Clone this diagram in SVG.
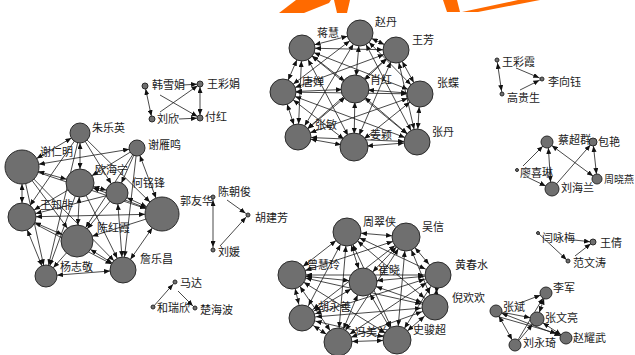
<svg xmlns="http://www.w3.org/2000/svg" width="635" height="355" viewBox="0 0 635 355">
<style>
.n{fill:#6f6f6f;stroke:#2b2b2b;stroke-width:1}
#connectors line{stroke:#1a1a1a;stroke-width:0.8;fill:none}
#eB line{marker-start:url(#m13);marker-end:url(#m13)}
#eC line{marker-start:url(#m14);marker-end:url(#m14)}
text{font-family:"Noto Sans CJK SC","Noto Sans",sans-serif;font-size:11px;fill:#1a1a1a}
.o{fill:#ff6a00}
</style>
<defs>
<marker id="m2" viewBox="0 0 6 5" refX="8" refY="2.5" markerWidth="6" markerHeight="5" markerUnits="userSpaceOnUse" orient="auto-start-reverse"><path d="M0,0L6,2.5L0,5z" fill="#111"/></marker>
<marker id="m3" viewBox="0 0 6 5" refX="9" refY="2.5" markerWidth="6" markerHeight="5" markerUnits="userSpaceOnUse" orient="auto-start-reverse"><path d="M0,0L6,2.5L0,5z" fill="#111"/></marker>
<marker id="m4" viewBox="0 0 6 5" refX="10" refY="2.5" markerWidth="6" markerHeight="5" markerUnits="userSpaceOnUse" orient="auto-start-reverse"><path d="M0,0L6,2.5L0,5z" fill="#111"/></marker>
<marker id="m5" viewBox="0 0 6 5" refX="11" refY="2.5" markerWidth="6" markerHeight="5" markerUnits="userSpaceOnUse" orient="auto-start-reverse"><path d="M0,0L6,2.5L0,5z" fill="#111"/></marker>
<marker id="m6" viewBox="0 0 6 5" refX="12" refY="2.5" markerWidth="6" markerHeight="5" markerUnits="userSpaceOnUse" orient="auto-start-reverse"><path d="M0,0L6,2.5L0,5z" fill="#111"/></marker>
<marker id="m7" viewBox="0 0 6 5" refX="13" refY="2.5" markerWidth="6" markerHeight="5" markerUnits="userSpaceOnUse" orient="auto-start-reverse"><path d="M0,0L6,2.5L0,5z" fill="#111"/></marker>
<marker id="m8" viewBox="0 0 6 5" refX="14" refY="2.5" markerWidth="6" markerHeight="5" markerUnits="userSpaceOnUse" orient="auto-start-reverse"><path d="M0,0L6,2.5L0,5z" fill="#111"/></marker>
<marker id="m10" viewBox="0 0 6 5" refX="16" refY="2.5" markerWidth="6" markerHeight="5" markerUnits="userSpaceOnUse" orient="auto-start-reverse"><path d="M0,0L6,2.5L0,5z" fill="#111"/></marker>
<marker id="m11" viewBox="0 0 6 5" refX="17" refY="2.5" markerWidth="6" markerHeight="5" markerUnits="userSpaceOnUse" orient="auto-start-reverse"><path d="M0,0L6,2.5L0,5z" fill="#111"/></marker>
<marker id="m13" viewBox="0 0 6 5" refX="19" refY="2.5" markerWidth="6" markerHeight="5" markerUnits="userSpaceOnUse" orient="auto-start-reverse"><path d="M0,0L6,2.5L0,5z" fill="#111"/></marker>
<marker id="m14" viewBox="0 0 6 5" refX="20" refY="2.5" markerWidth="6" markerHeight="5" markerUnits="userSpaceOnUse" orient="auto-start-reverse"><path d="M0,0L6,2.5L0,5z" fill="#111"/></marker>
<marker id="m16" viewBox="0 0 6 5" refX="22" refY="2.5" markerWidth="6" markerHeight="5" markerUnits="userSpaceOnUse" orient="auto-start-reverse"><path d="M0,0L6,2.5L0,5z" fill="#111"/></marker>
<marker id="m17" viewBox="0 0 6 5" refX="23" refY="2.5" markerWidth="6" markerHeight="5" markerUnits="userSpaceOnUse" orient="auto-start-reverse"><path d="M0,0L6,2.5L0,5z" fill="#111"/></marker>
</defs>
<rect width="635" height="355" fill="#ffffff"/>
<g id="banner">
<polygon class="o" points="279,13 304,13 329,3 331,0 296,0"/>
<polygon class="o" points="334,0 350,0 347,13 337,13"/>
<polygon class="o" points="443,0 457,0 460,12 447,12"/>
<polygon class="o" points="462,12 478,12 540,0 518,0"/>
</g>
<g id="connectors">
<g id="eA">
<line x1="22" y1="167" x2="80" y2="133" marker-start="url(#m17)" marker-end="url(#m10)"/>
<line x1="22" y1="167" x2="137" y2="148" marker-start="url(#m17)" marker-end="url(#m8)"/>
<line x1="22" y1="167" x2="80" y2="183" marker-start="url(#m17)" marker-end="url(#m14)"/>
<line x1="22" y1="167" x2="22" y2="217" marker-start="url(#m17)" marker-end="url(#m14)"/>
<line x1="22" y1="167" x2="162" y2="214" marker-end="url(#m17)"/>
<line x1="22" y1="167" x2="123" y2="270" marker-end="url(#m13)"/>
<line x1="22" y1="167" x2="46" y2="276" marker-end="url(#m11)"/>
<line x1="22" y1="167" x2="77" y2="241" marker-end="url(#m16)"/>
<line x1="80" y1="133" x2="80" y2="183" marker-start="url(#m10)" marker-end="url(#m14)"/>
<line x1="80" y1="133" x2="117" y2="193" marker-end="url(#m11)"/>
<line x1="80" y1="133" x2="162" y2="214" marker-end="url(#m17)"/>
<line x1="80" y1="133" x2="22" y2="217" marker-end="url(#m14)"/>
<line x1="80" y1="133" x2="46" y2="276" marker-end="url(#m11)"/>
<line x1="137" y1="148" x2="80" y2="183" marker-end="url(#m14)"/>
<line x1="137" y1="148" x2="117" y2="193" marker-end="url(#m11)"/>
<line x1="137" y1="148" x2="162" y2="214" marker-start="url(#m8)" marker-end="url(#m17)"/>
<line x1="137" y1="148" x2="77" y2="241" marker-end="url(#m16)"/>
<line x1="137" y1="148" x2="123" y2="270" marker-end="url(#m13)"/>
<line x1="80" y1="183" x2="117" y2="193" marker-start="url(#m14)" marker-end="url(#m11)"/>
<line x1="80" y1="183" x2="162" y2="214" marker-start="url(#m14)" marker-end="url(#m17)"/>
<line x1="80" y1="183" x2="22" y2="217" marker-end="url(#m14)"/>
<line x1="80" y1="183" x2="77" y2="241" marker-start="url(#m14)" marker-end="url(#m16)"/>
<line x1="80" y1="183" x2="46" y2="276" marker-end="url(#m11)"/>
<line x1="80" y1="183" x2="123" y2="270" marker-end="url(#m13)"/>
<line x1="117" y1="193" x2="162" y2="214" marker-start="url(#m11)" marker-end="url(#m17)"/>
<line x1="117" y1="193" x2="77" y2="241" marker-end="url(#m16)"/>
<line x1="117" y1="193" x2="123" y2="270" marker-start="url(#m11)" marker-end="url(#m13)"/>
<line x1="117" y1="193" x2="22" y2="217" marker-end="url(#m14)"/>
<line x1="162" y1="214" x2="22" y2="217" marker-start="url(#m17)" marker-end="url(#m14)"/>
<line x1="162" y1="214" x2="77" y2="241" marker-end="url(#m16)"/>
<line x1="162" y1="214" x2="123" y2="270" marker-start="url(#m17)" marker-end="url(#m13)"/>
<line x1="22" y1="217" x2="77" y2="241" marker-start="url(#m14)" marker-end="url(#m16)"/>
<line x1="22" y1="217" x2="46" y2="276" marker-start="url(#m14)" marker-end="url(#m11)"/>
<line x1="22" y1="217" x2="123" y2="270" marker-end="url(#m13)"/>
<line x1="77" y1="241" x2="46" y2="276" marker-end="url(#m11)"/>
<line x1="77" y1="241" x2="123" y2="270" marker-start="url(#m16)" marker-end="url(#m13)"/>
<line x1="46" y1="276" x2="123" y2="270" marker-start="url(#m11)" marker-end="url(#m13)"/>
</g>
<g id="eB">
<line x1="360" y1="33" x2="302" y2="48"/>
<line x1="360" y1="33" x2="396" y2="50"/>
<line x1="360" y1="33" x2="283" y2="92"/>
<line x1="360" y1="33" x2="355" y2="89"/>
<line x1="360" y1="33" x2="420" y2="94"/>
<line x1="360" y1="33" x2="298" y2="137"/>
<line x1="360" y1="33" x2="417" y2="142"/>
<line x1="302" y1="48" x2="396" y2="50"/>
<line x1="302" y1="48" x2="283" y2="92"/>
<line x1="302" y1="48" x2="355" y2="89"/>
<line x1="302" y1="48" x2="420" y2="94"/>
<line x1="302" y1="48" x2="298" y2="137"/>
<line x1="302" y1="48" x2="354" y2="147"/>
<line x1="302" y1="48" x2="417" y2="142"/>
<line x1="396" y1="50" x2="283" y2="92"/>
<line x1="396" y1="50" x2="355" y2="89"/>
<line x1="396" y1="50" x2="420" y2="94"/>
<line x1="396" y1="50" x2="298" y2="137"/>
<line x1="396" y1="50" x2="354" y2="147"/>
<line x1="396" y1="50" x2="417" y2="142"/>
<line x1="283" y1="92" x2="355" y2="89"/>
<line x1="283" y1="92" x2="420" y2="94"/>
<line x1="283" y1="92" x2="298" y2="137"/>
<line x1="283" y1="92" x2="354" y2="147"/>
<line x1="283" y1="92" x2="417" y2="142"/>
<line x1="355" y1="89" x2="420" y2="94"/>
<line x1="355" y1="89" x2="298" y2="137"/>
<line x1="355" y1="89" x2="354" y2="147"/>
<line x1="355" y1="89" x2="417" y2="142"/>
<line x1="420" y1="94" x2="298" y2="137"/>
<line x1="420" y1="94" x2="354" y2="147"/>
<line x1="420" y1="94" x2="417" y2="142"/>
<line x1="298" y1="137" x2="354" y2="147"/>
<line x1="298" y1="137" x2="417" y2="142"/>
<line x1="354" y1="147" x2="417" y2="142"/>
</g>
<g id="eC">
<line x1="347" y1="232" x2="406" y2="237"/>
<line x1="347" y1="232" x2="292" y2="275"/>
<line x1="347" y1="232" x2="363" y2="282"/>
<line x1="347" y1="232" x2="438" y2="275"/>
<line x1="347" y1="232" x2="435" y2="307"/>
<line x1="347" y1="232" x2="302" y2="318"/>
<line x1="347" y1="232" x2="338" y2="342"/>
<line x1="347" y1="232" x2="397" y2="340"/>
<line x1="406" y1="237" x2="292" y2="275"/>
<line x1="406" y1="237" x2="363" y2="282"/>
<line x1="406" y1="237" x2="438" y2="275"/>
<line x1="406" y1="237" x2="435" y2="307"/>
<line x1="406" y1="237" x2="302" y2="318"/>
<line x1="406" y1="237" x2="338" y2="342"/>
<line x1="406" y1="237" x2="397" y2="340"/>
<line x1="292" y1="275" x2="363" y2="282"/>
<line x1="292" y1="275" x2="438" y2="275"/>
<line x1="292" y1="275" x2="435" y2="307"/>
<line x1="292" y1="275" x2="302" y2="318"/>
<line x1="292" y1="275" x2="338" y2="342"/>
<line x1="292" y1="275" x2="397" y2="340"/>
<line x1="363" y1="282" x2="438" y2="275"/>
<line x1="363" y1="282" x2="435" y2="307"/>
<line x1="363" y1="282" x2="302" y2="318"/>
<line x1="363" y1="282" x2="338" y2="342"/>
<line x1="363" y1="282" x2="397" y2="340"/>
<line x1="438" y1="275" x2="435" y2="307"/>
<line x1="438" y1="275" x2="302" y2="318"/>
<line x1="438" y1="275" x2="338" y2="342"/>
<line x1="438" y1="275" x2="397" y2="340"/>
<line x1="435" y1="307" x2="302" y2="318"/>
<line x1="435" y1="307" x2="338" y2="342"/>
<line x1="435" y1="307" x2="397" y2="340"/>
<line x1="302" y1="318" x2="338" y2="342"/>
<line x1="302" y1="318" x2="397" y2="340"/>
<line x1="338" y1="342" x2="397" y2="340"/>
</g>
<g id="eSmall">
<line x1="183" y1="85" x2="200" y2="84" marker-end="url(#m3)"/>
<line x1="145" y1="86" x2="152" y2="119" marker-start="url(#m3)" marker-end="url(#m3)"/>
<line x1="160" y1="95" x2="200" y2="118" marker-end="url(#m3)"/>
<line x1="160" y1="112" x2="200" y2="84" marker-end="url(#m3)"/>
<line x1="179" y1="119" x2="200" y2="118" marker-end="url(#m3)"/>
<line x1="200" y1="84" x2="200" y2="118" marker-start="url(#m3)" marker-end="url(#m3)"/>
<line x1="213" y1="197" x2="213" y2="250" marker-start="url(#m3)" marker-end="url(#m3)"/>
<line x1="227" y1="200" x2="248" y2="215" marker-end="url(#m3)"/>
<line x1="220" y1="246" x2="248" y2="215" marker-end="url(#m3)"/>
<line x1="153" y1="307" x2="175" y2="282" marker-end="url(#m3)"/>
<line x1="178" y1="291" x2="195" y2="308" marker-end="url(#m3)"/>
<line x1="497" y1="60" x2="502" y2="94" marker-start="url(#m3)" marker-end="url(#m3)"/>
<line x1="516" y1="68" x2="542" y2="79" marker-end="url(#m3)"/>
<line x1="520" y1="90" x2="542" y2="79" marker-end="url(#m3)"/>
<line x1="523" y1="166" x2="547" y2="142" marker-end="url(#m6)"/>
<line x1="551" y1="189" x2="548" y2="142" marker-start="url(#m7)" marker-end="url(#m6)"/>
<line x1="547" y1="142" x2="597" y2="179" marker-start="url(#m6)" marker-end="url(#m5)"/>
<line x1="593" y1="142" x2="597" y2="179" marker-start="url(#m4)" marker-end="url(#m5)"/>
<line x1="552" y1="189" x2="593" y2="142" marker-end="url(#m4)"/>
<line x1="527" y1="177" x2="552" y2="189" marker-end="url(#m7)"/>
<line x1="574" y1="240" x2="593" y2="242" marker-end="url(#m3)"/>
<line x1="538" y1="233" x2="568" y2="261" marker-end="url(#m2)"/>
<line x1="575" y1="256" x2="593" y2="242" marker-end="url(#m3)"/>
<line x1="520" y1="303" x2="546" y2="293" marker-end="url(#m6)"/>
<line x1="496" y1="311" x2="537" y2="319" marker-end="url(#m7)"/>
<line x1="496" y1="311" x2="566" y2="338" marker-start="url(#m6)" marker-end="url(#m6)"/>
<line x1="496" y1="316" x2="562" y2="335" marker-end="url(#m6)"/>
<line x1="496" y1="311" x2="515" y2="345" marker-start="url(#m6)" marker-end="url(#m6)"/>
<line x1="537" y1="319" x2="546" y2="293" marker-start="url(#m7)" marker-end="url(#m6)"/>
<line x1="537" y1="319" x2="566" y2="338" marker-start="url(#m7)" marker-end="url(#m6)"/>
<line x1="515" y1="345" x2="546" y2="293" marker-end="url(#m6)"/>
<line x1="515" y1="345" x2="537" y2="319" marker-end="url(#m7)"/>
</g>
</g>
<g id="nodes">
<g id="n-xierenming"><circle class="n" cx="22" cy="167" r="17"/><text x="40" y="156">谢仁明</text></g>
<g id="n-zhuleying"><circle class="n" cx="80" cy="133" r="10"/><text x="92" y="132">朱乐英</text></g>
<g id="n-xieyanming"><circle class="n" cx="137" cy="148" r="8"/><text x="148" y="149">谢雁鸣</text></g>
<g id="n-ouhaining"><circle class="n" cx="80" cy="183" r="14"/><text x="95" y="174">欧海宁</text></g>
<g id="n-hemingfeng"><circle class="n" cx="117" cy="193" r="11"/><text x="132" y="187">何铭锋</text></g>
<g id="n-guoyouhua"><circle class="n" cx="162" cy="214" r="17"/><text x="180" y="205">郭友华</text></g>
<g id="n-wangzhifei"><circle class="n" cx="22" cy="217" r="14"/><text x="40" y="209">王知非</text></g>
<g id="n-chenhongxia"><circle class="n" cx="77" cy="241" r="16"/><text x="97" y="232">陈红霞</text></g>
<g id="n-yangzhijing"><circle class="n" cx="46" cy="276" r="11"/><text x="60" y="271">杨志敬</text></g>
<g id="n-zhanlechang"><circle class="n" cx="123" cy="270" r="13"/><text x="140" y="263">詹乐昌</text></g>

<g id="n-hanxuejuan"><circle class="n" cx="145" cy="86" r="3"/><text x="152" y="89">韩雪娟</text></g>
<g id="n-wangcaijuan"><circle class="n" cx="200" cy="84" r="3"/><text x="207" y="88">王彩娟</text></g>
<g id="n-liuxin"><circle class="n" cx="152" cy="119" r="3"/><text x="157" y="123">刘欣</text></g>
<g id="n-fuhong"><circle class="n" cx="200" cy="118" r="3"/><text x="205" y="121">付红</text></g>

<g id="n-chenchaojun"><circle class="n" cx="213" cy="197" r="2"/><text x="218" y="196">陈朝俊</text></g>
<g id="n-hujianfang"><circle class="n" cx="248" cy="215" r="2"/><text x="255" y="222">胡建芳</text></g>
<g id="n-liuyuan"><circle class="n" cx="213" cy="250" r="2"/><text x="218" y="256">刘媛</text></g>

<g id="n-mada"><circle class="n" cx="175" cy="282" r="2"/><text x="180" y="287">马达</text></g>
<g id="n-heruixin"><circle class="n" cx="153" cy="307" r="2"/><text x="157" y="312">和瑞欣</text></g>
<g id="n-chuhaibo"><circle class="n" cx="195" cy="308" r="2"/><text x="200" y="314">楚海波</text></g>

<g id="n-zhaodan"><circle class="n" cx="360" cy="33" r="13"/><text x="375" y="26">赵丹</text></g>
<g id="n-jianghui"><circle class="n" cx="302" cy="48" r="13"/><text x="317" y="37">蒋慧</text></g>
<g id="n-wangfang"><circle class="n" cx="396" cy="50" r="13"/><text x="412" y="44">王芳</text></g>
<g id="n-tangchan"><circle class="n" cx="283" cy="92" r="13"/><text x="302" y="86">唐婵</text></g>
<g id="n-xiaohong"><circle class="n" cx="355" cy="89" r="14"/><text x="370" y="84">肖红</text></g>
<g id="n-zhangdie"><circle class="n" cx="420" cy="94" r="13"/><text x="437" y="87">张蝶</text></g>
<g id="n-zhangmin"><circle class="n" cx="298" cy="137" r="13"/><text x="315" y="129">张敏</text></g>
<g id="n-jiangying"><circle class="n" cx="354" cy="147" r="14"/><text x="370" y="139">姜颖</text></g>
<g id="n-zhangdan"><circle class="n" cx="417" cy="142" r="13"/><text x="432" y="136">张丹</text></g>

<g id="n-zhoucuixia"><circle class="n" cx="347" cy="232" r="14"/><text x="363" y="226">周翠侠</text></g>
<g id="n-wuxin"><circle class="n" cx="406" cy="237" r="14"/><text x="422" y="231">吴信</text></g>
<g id="n-zenghuiling"><circle class="n" cx="292" cy="275" r="14"/><text x="307" y="269">曾慧玲</text></g>
<g id="n-cuixiao"><circle class="n" cx="363" cy="282" r="14"/><text x="378" y="274">崔晓</text></g>
<g id="n-huangchunshui"><circle class="n" cx="438" cy="275" r="13"/><text x="455" y="269">黄春水</text></g>
<g id="n-nihuanhuan"><circle class="n" cx="435" cy="307" r="13"/><text x="452" y="302">倪欢欢</text></g>
<g id="n-huyongshan"><circle class="n" cx="302" cy="318" r="13"/><text x="318" y="311">胡永善</text></g>
<g id="n-fengmeilan"><circle class="n" cx="338" cy="342" r="14"/><text x="355" y="336">冯美兰</text></g>
<g id="n-shijunchao"><circle class="n" cx="397" cy="340" r="14"/><text x="413" y="334">史骏超</text></g>

<g id="n-wangcaixia"><circle class="n" cx="497" cy="60" r="2"/><text x="502" y="66">王彩霞</text></g>
<g id="n-lixiangyu"><circle class="n" cx="542" cy="79" r="2"/><text x="548" y="86">李向钰</text></g>
<g id="n-gaoguisheng"><circle class="n" cx="502" cy="94" r="2"/><text x="507" y="102">高贵生</text></g>

<g id="n-caichaoqun"><circle class="n" cx="547" cy="142" r="6"/><text x="558" y="144">蔡超群</text></g>
<g id="n-baoyan"><circle class="n" cx="593" cy="142" r="4"/><text x="598" y="146">包艳</text></g>
<g id="n-zhouxiaoyan"><circle class="n" cx="597" cy="179" r="5"/><text x="604" y="183" style="font-size:10px">周晓燕</text></g>
<g id="n-liaoxilin"><circle class="n" cx="517" cy="170" r="1.5"/><text x="520" y="177">廖喜琳</text></g>
<g id="n-liuhailan"><circle class="n" cx="552" cy="189" r="7"/><text x="561" y="192">刘海兰</text></g>

<g id="n-yanyongmei"><circle class="n" cx="538" cy="233" r="1.5"/><text x="542" y="242">闫咏梅</text></g>
<g id="n-wangqian"><circle class="n" cx="593" cy="242" r="3"/><text x="600" y="247">王倩</text></g>
<g id="n-fanwentao"><circle class="n" cx="568" cy="261" r="2"/><text x="573" y="267">范文涛</text></g>

<g id="n-lijun"><circle class="n" cx="546" cy="293" r="6"/><text x="553" y="292">李军</text></g>
<g id="n-zhangbin"><circle class="n" cx="496" cy="311" r="6"/><text x="503" y="311">张斌</text></g>
<g id="n-zhangwenliang"><circle class="n" cx="537" cy="319" r="7"/><text x="545" y="322">张文亮</text></g>
<g id="n-zhaoyaowu"><circle class="n" cx="566" cy="338" r="6"/><text x="573" y="342">赵耀武</text></g>
<g id="n-liuyongqi"><circle class="n" cx="515" cy="345" r="6"/><text x="523" y="347">刘永琦</text></g>
</g>
</svg>
